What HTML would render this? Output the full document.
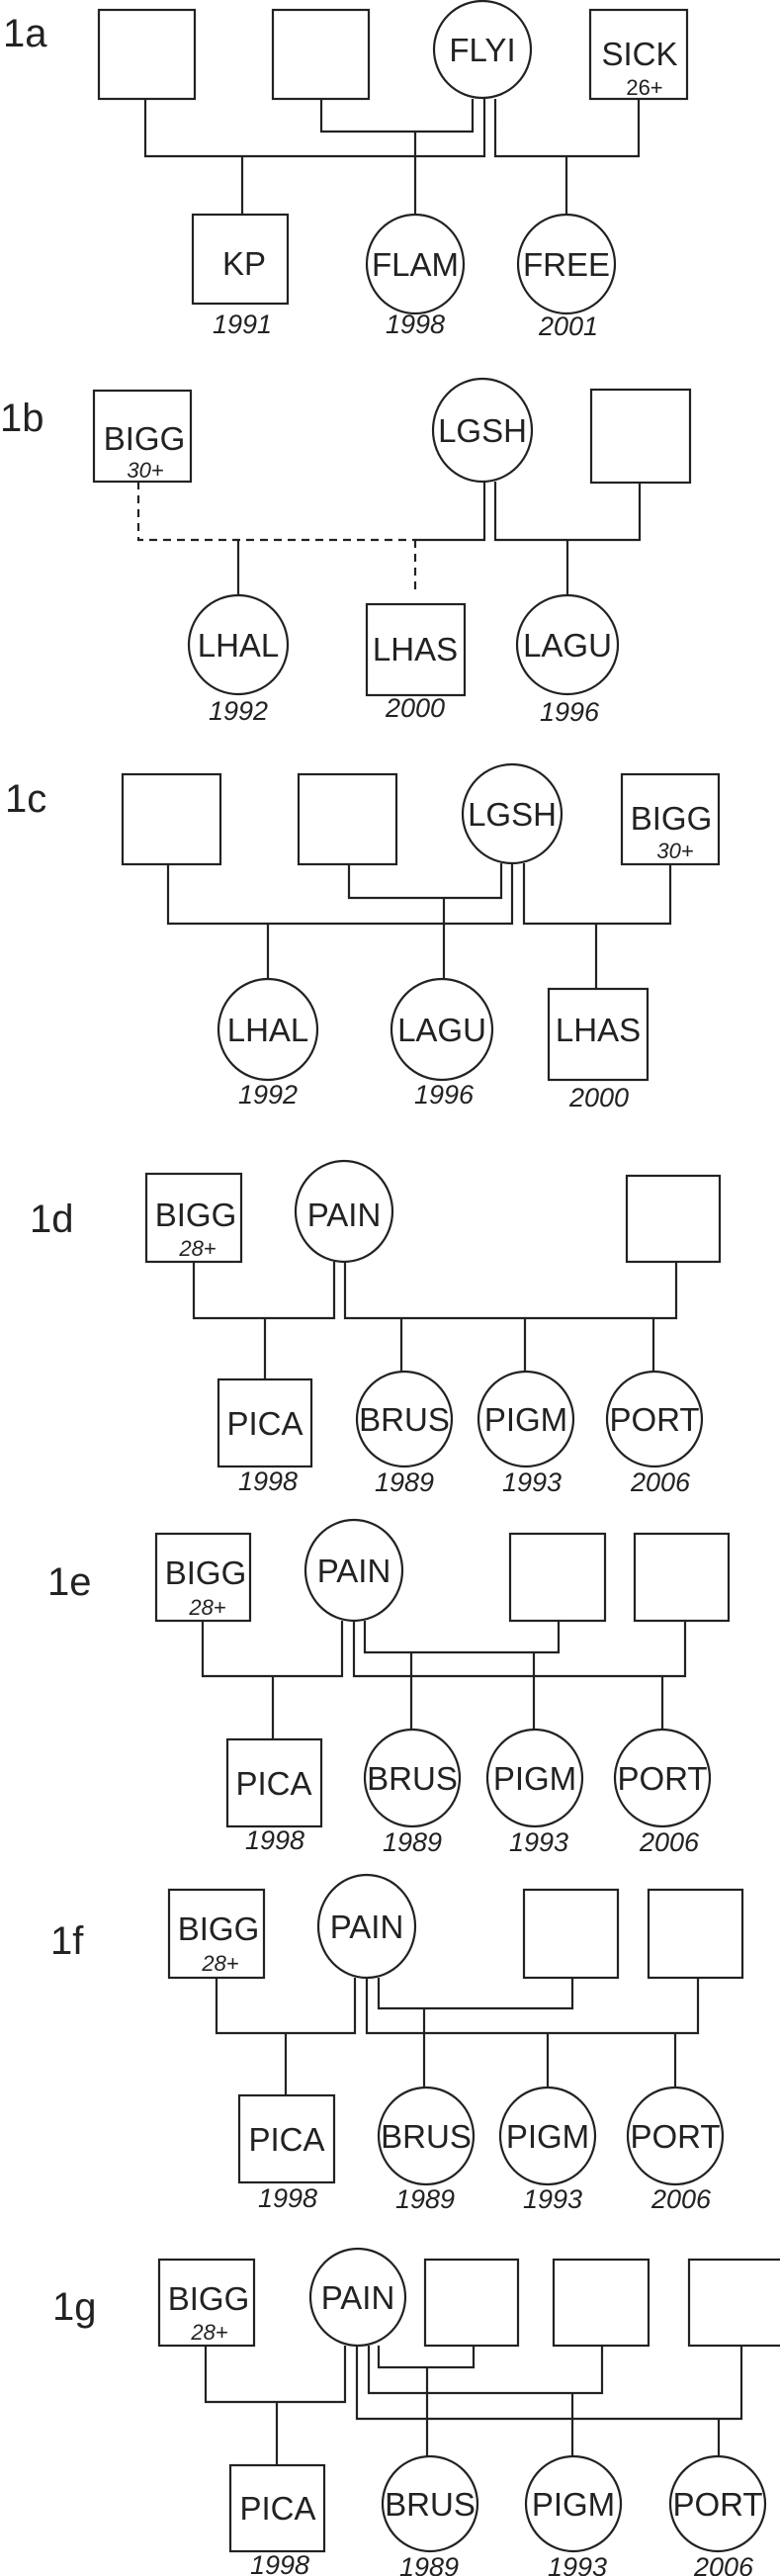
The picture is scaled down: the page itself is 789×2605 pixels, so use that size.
<!DOCTYPE html>
<html><head><meta charset="utf-8"><style>
html,body{margin:0;padding:0;background:#fff;}
svg{display:block;}
.s{fill:none;stroke:#222;stroke-width:2.2}
.k{fill:none;stroke:#222;stroke-width:2.2;stroke-dasharray:8,6}
text{font-family:"Liberation Sans",sans-serif;fill:#222;}
.n{font-size:33px;text-anchor:middle}
.d{font-size:27px;font-style:italic;text-anchor:middle}
.m{font-size:22px;font-style:italic;text-anchor:middle}
.l{font-size:40px}
</style></head><body>
<svg width="789" height="2605" viewBox="0 0 789 2605" xmlns="http://www.w3.org/2000/svg">
<!-- 1a -->
<text class="l" x="3" y="47">1a</text>
<rect class="s" x="100" y="10" width="97" height="90"/>
<rect class="s" x="276" y="10" width="97" height="90"/>
<ellipse class="s" cx="488" cy="50" rx="49" ry="49"/>
<text class="n" x="488" y="62">FLYI</text>
<rect class="s" x="597" y="10" width="98" height="90"/>
<text class="n" x="647" y="66">SICK</text>
<text class="m" x="652" y="96" style="font-style:normal">26+</text>
<path class="s" d="M147 100V158H490V100M478 100V133H325V100M501 100V158H646V100M245 158V217M420 133V217M573 158V217"/>
<rect class="s" x="195" y="217" width="96" height="90"/>
<text class="n" x="247" y="278">KP</text>
<ellipse class="s" cx="420" cy="267" rx="49" ry="50"/>
<text class="n" x="420" y="279">FLAM</text>
<ellipse class="s" cx="573" cy="267" rx="49" ry="50"/>
<text class="n" x="573" y="279">FREE</text>
<text class="d" x="245" y="337">1991</text>
<text class="d" x="420" y="337">1998</text>
<text class="d" x="575" y="339">2001</text>

<!-- 1b -->
<text class="l" x="0" y="436">1b</text>
<rect class="s" x="95" y="395" width="98" height="92"/>
<text class="n" x="146" y="455">BIGG</text>
<text class="m" x="147" y="483">30+</text>
<ellipse class="s" cx="488" cy="435" rx="50" ry="52"/>
<text class="n" x="488" y="447">LGSH</text>
<rect class="s" x="598" y="394" width="100" height="94"/>
<path class="k" d="M140 487V546H420M420 546V600"/>
<path class="s" d="M420 546H490V487M501 487V546H647V488M241 546V602M574 546V602"/>
<ellipse class="s" cx="241" cy="652" rx="50" ry="50"/>
<text class="n" x="241" y="664">LHAL</text>
<rect class="s" x="371" y="611" width="99" height="92"/>
<text class="n" x="420" y="668">LHAS</text>
<ellipse class="s" cx="574" cy="652" rx="51" ry="50"/>
<text class="n" x="574" y="664">LAGU</text>
<text class="d" x="241" y="728">1992</text>
<text class="d" x="420" y="725">2000</text>
<text class="d" x="576" y="729">1996</text>

<!-- 1c -->
<text class="l" x="5" y="821">1c</text>
<rect class="s" x="124" y="783" width="99" height="91"/>
<rect class="s" x="302" y="783" width="99" height="91"/>
<ellipse class="s" cx="518" cy="823" rx="50" ry="50"/>
<text class="n" x="518" y="835">LGSH</text>
<rect class="s" x="629" y="783" width="98" height="91"/>
<text class="n" x="679" y="839">BIGG</text>
<text class="m" x="683" y="868">30+</text>
<path class="s" d="M170 874V934H518V873M507 873V908H353V874M530 873V934H678V874M271 934V990M449 908V990M603 934V1000"/>
<ellipse class="s" cx="271" cy="1041" rx="50" ry="51"/>
<text class="n" x="271" y="1053">LHAL</text>
<ellipse class="s" cx="447" cy="1041" rx="51" ry="51"/>
<text class="n" x="447" y="1053">LAGU</text>
<rect class="s" x="555" y="1000" width="100" height="92"/>
<text class="n" x="605" y="1053">LHAS</text>
<text class="d" x="271" y="1116">1992</text>
<text class="d" x="449" y="1116">1996</text>
<text class="d" x="606" y="1119">2000</text>

<!-- 1d -->
<text class="l" x="30" y="1246">1d</text>
<rect class="s" x="148" y="1187" width="96" height="89"/>
<text class="n" x="198" y="1240">BIGG</text>
<text class="m" x="200" y="1270">28+</text>
<ellipse class="s" cx="348" cy="1225" rx="49" ry="51"/>
<text class="n" x="348" y="1240">PAIN</text>
<rect class="s" x="634" y="1189" width="94" height="87"/>
<path class="s" d="M196 1276V1333H338V1276M349 1276V1333H684V1276M268 1333V1395M406 1333V1387M531 1333V1387M661 1333V1387"/>
<rect class="s" x="221" y="1395" width="94" height="88"/>
<text class="n" x="268" y="1451">PICA</text>
<ellipse class="s" cx="409" cy="1435" rx="48" ry="48"/>
<text class="n" x="409" y="1447">BRUS</text>
<ellipse class="s" cx="532" cy="1435" rx="48" ry="48"/>
<text class="n" x="532" y="1447">PIGM</text>
<ellipse class="s" cx="662" cy="1435" rx="48" ry="48"/>
<text class="n" x="662" y="1447">PORT</text>
<text class="d" x="271" y="1507">1998</text>
<text class="d" x="409" y="1508">1989</text>
<text class="d" x="538" y="1508">1993</text>
<text class="d" x="668" y="1508">2006</text>

<!-- 1e -->
<text class="l" x="48" y="1613">1e</text>
<rect class="s" x="158" y="1551" width="95" height="88"/>
<text class="n" x="208" y="1602">BIGG</text>
<text class="m" x="210" y="1633">28+</text>
<ellipse class="s" cx="358" cy="1588" rx="49" ry="51"/>
<text class="n" x="358" y="1600">PAIN</text>
<rect class="s" x="516" y="1551" width="96" height="88"/>
<rect class="s" x="642" y="1551" width="95" height="88"/>
<path class="s" d="M205 1639V1695H346V1639M358 1639V1695H693V1639M369 1639V1671H565V1639M276 1695V1759M416 1671V1749M540 1671V1749M670 1695V1749"/>
<rect class="s" x="230" y="1759" width="95" height="88"/>
<text class="n" x="277" y="1815">PICA</text>
<ellipse class="s" cx="417" cy="1798" rx="48" ry="49"/>
<text class="n" x="417" y="1810">BRUS</text>
<ellipse class="s" cx="541" cy="1798" rx="48" ry="49"/>
<text class="n" x="541" y="1810">PIGM</text>
<ellipse class="s" cx="670" cy="1798" rx="48" ry="49"/>
<text class="n" x="670" y="1810">PORT</text>
<text class="d" x="278" y="1870">1998</text>
<text class="d" x="417" y="1872">1989</text>
<text class="d" x="545" y="1872">1993</text>
<text class="d" x="677" y="1872">2006</text>

<!-- 1f -->
<text class="l" x="51" y="1976">1f</text>
<rect class="s" x="171" y="1911" width="96" height="89"/>
<text class="n" x="221" y="1962">BIGG</text>
<text class="m" x="223" y="1993">28+</text>
<ellipse class="s" cx="371" cy="1948" rx="49" ry="52"/>
<text class="n" x="371" y="1960">PAIN</text>
<rect class="s" x="530" y="1911" width="95" height="89"/>
<rect class="s" x="656" y="1911" width="95" height="89"/>
<path class="s" d="M219 2000V2056H359V2000M371 2000V2056H706V2000M383 2000V2031H579V2000M289 2056V2119M429 2031V2111M554 2056V2111M683 2056V2111"/>
<rect class="s" x="242" y="2119" width="96" height="88"/>
<text class="n" x="290" y="2175">PICA</text>
<ellipse class="s" cx="431" cy="2160" rx="48" ry="49"/>
<text class="n" x="431" y="2172">BRUS</text>
<ellipse class="s" cx="554" cy="2160" rx="48" ry="49"/>
<text class="n" x="554" y="2172">PIGM</text>
<ellipse class="s" cx="683" cy="2160" rx="48" ry="49"/>
<text class="n" x="683" y="2172">PORT</text>
<text class="d" x="291" y="2232">1998</text>
<text class="d" x="430" y="2233">1989</text>
<text class="d" x="559" y="2233">1993</text>
<text class="d" x="689" y="2233">2006</text>

<!-- 1g -->
<text class="l" x="53" y="2346">1g</text>
<rect class="s" x="161" y="2285" width="96" height="87"/>
<text class="n" x="211" y="2336">BIGG</text>
<text class="m" x="212" y="2366">28+</text>
<ellipse class="s" cx="362" cy="2323" rx="48" ry="49"/>
<text class="n" x="362" y="2335">PAIN</text>
<rect class="s" x="430" y="2285" width="94" height="87"/>
<rect class="s" x="560" y="2285" width="96" height="87"/>
<rect class="s" x="697" y="2285" width="95" height="87"/>
<path class="s" d="M208 2372V2429H349V2372M361 2372V2446H750V2372M373 2372V2420H609V2372M383 2372V2394H479V2372M280 2429V2493M432 2394V2484M579 2420V2484M727 2446V2484"/>
<rect class="s" x="233" y="2493" width="95" height="87"/>
<text class="n" x="281" y="2548">PICA</text>
<ellipse class="s" cx="435" cy="2532" rx="48" ry="48"/>
<text class="n" x="435" y="2544">BRUS</text>
<ellipse class="s" cx="580" cy="2532" rx="48" ry="48"/>
<text class="n" x="580" y="2544">PIGM</text>
<ellipse class="s" cx="726" cy="2532" rx="48" ry="48"/>
<text class="n" x="726" y="2544">PORT</text>
<text class="d" x="283" y="2603">1998</text>
<text class="d" x="434" y="2605">1989</text>
<text class="d" x="584" y="2605">1993</text>
<text class="d" x="732" y="2605">2006</text>
</svg>
</body></html>
